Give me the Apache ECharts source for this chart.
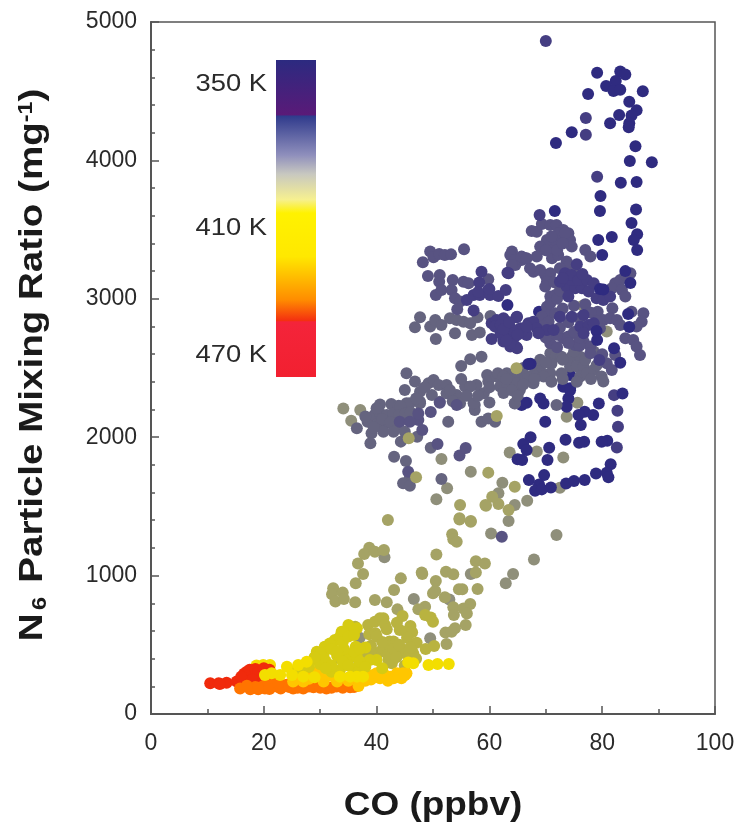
<!DOCTYPE html>
<html><head><meta charset="utf-8">
<style>html,body{margin:0;padding:0;background:#fff}#c{width:738px;height:827px}</style>
<script src="https://cdn.jsdelivr.net/npm/echarts@6/dist/echarts.min.js"></script>
</head><body><div id="c"></div>
<script>
const xTicks=[0,20,40,60,80,100];
const yTicks=[0,1000,2000,3000,4000,5000];
const barLabels=['350 K','410 K','470 K'];
const redPts=[[10.5,222],[12,222],[13.4,226],[15.2,234],[12.2,217],[17,306],[17.6,270],[18.7,306],[19.9,318],[21.1,306],[17.3,234],[19.3,270],[16.1,246],[18,290],[20,295],[16.5,290],[17.5,320],[18.5,325],[19,300],[20,330],[21,320],[18,250],[20,250],[21.5,280],[16,270]];
const paleBackPts=[[19.9,354],[21.1,354],[18.7,350]];
const orangePts=[[15.8,185],[17.6,178],[19,178],[20.2,185],[21.7,198],[23.2,198],[25.2,185],[27,185],[28.8,193],[31.1,185],[32.9,198],[35.3,193],[22.3,198],[21,215],[24,212],[20,205],[26,205],[29,205],[31,200],[34,205],[18.5,195],[22,215],[23,185],[24.5,195],[26,190],[28,198],[30,190],[32,190],[34,190],[36,195],[17,205],[19,190],[21,180],[22.5,225],[25,225]];
const amberPts=[[36.8,202],[38.2,258],[39.4,282],[41.2,294],[42.4,270],[43.6,294],[45.3,294],[44.4,258],[43,258],[40.6,258],[44.7,294],[25.2,234],[27,234],[28.8,282],[30.6,234],[32.3,270],[27.6,294],[30,330],[35,240],[33,235],[38,240],[26,260],[28,255],[30,270],[31,290],[33,250],[35,260],[37,235],[39,250],[41,275],[42,240],[44,270],[45,280],[40,295],[29,300],[33,300],[38,280],[36,290]];
const yellowPts=[[20.2,282],[21.4,294],[22.9,282],[25,282],[24.1,342],[26.1,354],[27.6,378],[37.6,270],[36.5,270],[35.3,270],[33.5,270],[49.2,354],[50.8,361],[52.8,361],[46.5,366],[45.6,373],[27,270],[29,265]];
const yellowOlivePts=[[29.4,450],[30.8,486],[28.8,390],[30.6,414],[32,510],[32.6,535],[33.8,595],[35,643],[36.5,619],[35.9,595],[32,306],[33.5,318],[34.1,462],[35.3,414],[36.5,414],[37.1,342],[33,535],[33.5,559],[31.7,510],[36.3,486],[34.2,470],[34.1,595],[36.5,330],[40,390],[38.8,390],[28,340],[30,360],[31,380],[33,420],[34,380],[36,450],[37,380],[38,340],[32,350],[35,350],[38,480],[30,440],[32,470],[34,520],[35,560],[36,570],[41,330],[37,470],[29,410],[31,330],[33,450],[26,330],[27,340]];
const oliveYellowPts=[[38.5,643],[39.7,667],[40.6,691],[41.2,691],[41.5,643],[41.8,612],[44.6,708],[43.6,660],[44.1,607],[46,636],[45.2,595],[46.3,590],[45.4,551],[47.1,515],[42.3,523],[43,523],[39,494],[38.7,576],[39.8,583],[44.1,438],[45.3,462],[46.2,462],[46.5,438],[45.6,414],[38.8,426],[40.6,450],[41.2,474],[42.4,486],[42.1,390],[42.7,366],[37.1,414],[35.9,414],[33.5,402],[36.2,631],[35.9,607],[48.6,715],[49.6,698],[50,667],[48.7,470],[50.2,491],[39,440],[42,430],[40,560],[41,520],[43,470],[44,500],[46,480],[43.5,410],[47,400],[45,350]];
const olivePts=[[42,1402],[38.7,1202],[37.8,1156],[39.7,1173],[41.3,1185],[36.7,1088],[37.6,1011],[36.3,944],[32.3,908],[32.1,865],[34,877],[32.7,812],[34.2,831],[36.2,807],[39.7,824],[41.8,807],[43.1,896],[44.3,980],[48,1023],[48.1,1011],[50.6,1153],[50.5,961],[50,872],[50.4,889],[52.3,1028],[53.6,1009],[53.4,1298],[53.6,1262],[54.2,1245],[54.8,1510],[54.7,1406],[56.7,1389],[59.3,1510],[61.6,1517],[63.4,1474],[57.6,1103],[59.2,1088],[57.6,1023],[57.9,903],[54.6,901],[55.2,901],[52.1,843],[43.7,756],[48.6,775],[47.4,756],[53.6,771],[56.6,795],[55.4,763],[56,727],[53.7,715],[55.8,643],[53.9,619],[52.2,588],[53.3,595],[52.4,506],[59.8,1744],[60.5,1570],[59.4,1505],[54.7,1414],[56.7,1395],[47,1710],[45.7,1992],[61.3,2153],[64.8,2498],[64.5,1642]];
const greyPts=[[46.6,831],[41.4,1132],[49.5,547],[37,551],[56.7,1011],[52.9,828],[60.3,1305],[63.4,1394],[71.9,1293],[67.9,1117],[64.2,1011],[62.9,944],[64.5,1510],[61.6,1595],[62.3,1671],[56.7,1751],[50.6,1551],[52.5,1631],[51.5,1843],[66.7,1541],[72.5,1635],[63.6,1890],[68.4,1897],[73.1,1854],[73.7,2148],[75.6,2249],[76.6,2951],[80.8,2763],[34.1,2208],[37.1,2197],[35.5,2119]];
const navyUnderPts=[[74.3,2450],[73.1,2365],[74.3,2353],[74,2280],[73.7,2220],[74.3,2340],[69,2280],[69.6,2244],[66.6,2249],[65.7,2232],[68.8,2907],[66,2245]];
const greySlatePts=[[36.5,2064],[38.4,2112],[39.6,2160],[40.6,2237],[42.6,2240],[43.9,2228],[45,2220],[45.9,2245],[47.7,2257],[40.6,2172],[41.8,2160],[43,2172],[40.3,2100],[41.8,2100],[43.3,2076],[39.1,2028],[38.9,1956],[41.2,2040],[45,2040],[44.3,1968],[47.2,2004],[43.1,1859],[45.2,1828],[45.9,1710],[44.7,1667],[45.9,1650],[51.5,1698],[52.7,2112],[49.6,1924],[45.3,2462],[46.8,2402],[45,2341],[49.2,2390],[50.1,2414],[51,2377],[52.4,2377],[47.7,2329],[49.8,2305],[51.2,2257],[52.4,2317],[54.2,2305],[54.8,2245],[55.7,2366],[57.7,2378],[56.6,2366],[59.6,2450],[59.8,2402],[61.3,2438],[61.5,2462],[59,2317],[57.4,2233],[61.9,2366],[63.1,2390],[64.5,2402],[65.4,2341],[64.5,2245],[45.3,2245],[47.7,2245],[44.2,2221],[61,2112],[58.6,2112],[59.8,2136],[57.4,2197],[57.2,2245],[55,2515],[56.6,2563],[58.6,2582],[47.7,2866],[46.8,2794],[49.5,2799],[50.4,2847],[51.5,2811],[53,2859],[54.2,2847],[55.4,2835],[56.6,2823],[57.9,2866],[53.9,2751],[56.9,2739],[58.3,2756],[50.5,2710],[60.2,2876],[70.8,2606],[71.7,2582],[72.8,2582],[74.6,2582],[76.1,2582],[74.3,2510],[75.5,2510],[76.7,2510],[76.1,2438],[77.3,2462],[78.5,2486],[72.8,2462],[70.8,2462],[69,2486],[67.8,2450],[69.6,2438],[66.6,2438],[64.9,2450],[63.1,2462],[62.5,2438],[64.9,2390],[67.8,2390],[71.9,2232],[64.5,2244],[79.9,2438],[80.2,2402],[66,2500],[67.5,2520],[69,2560],[71,2530],[73,2560],[75,2620],[77,2560],[78.5,2620],[70,2540],[68,2420],[71,2400],[73,2420],[75.5,2400],[78,2420],[79,2520],[53,2340],[55,2420],[56,2300],[58,2300],[60,2360],[62.5,2320],[60,2250],[53.5,2260],[48.5,2360],[47,2280],[64,2340],[66,2380],[65,2300],[63,2420],[40,2210],[41,2130],[42.5,2110],[44,2160],[45,2170],[43,2040],[46,2180],[38,2150],[39.5,2070]];
const slatePts=[[67.5,3490],[68.4,3485],[69.3,3541],[70.8,3533],[71.9,3533],[73.1,3497],[74,3473],[74.3,3425],[74.6,3377],[72.5,3401],[71.4,3401],[70.2,3425],[69,3377],[71.1,3329],[71.1,3293],[72.2,3317],[73.7,3269],[74,3232],[72.5,3220],[74.9,3196],[70.8,3184],[69.9,3172],[69,3208],[67.8,3196],[67.2,3220],[66.3,3293],[65.7,3281],[64,3341],[64.3,3293],[64.6,3244],[68.4,3305],[77,3353],[77.9,3305],[72.2,3473],[73.4,3473],[83.2,3136],[84.1,3172],[85,3184],[82.3,3112],[81.7,3076],[83.5,3064],[84.1,3016],[81.8,2931],[79.2,2907],[70.2,3124],[69.9,3088],[70.8,3016],[71.7,3028],[70.2,2943],[70.8,2967],[69.9,2883],[69.3,2871],[70.5,2835],[71.7,2895],[80.2,2847],[81.4,2859],[82.6,2847],[83.2,2811],[85.2,2907],[87.3,2895],[87,2835],[86.1,2799],[84.1,2715],[85.5,2703],[86.1,2655],[86.7,2594],[82.3,2594],[79.6,2787],[75.2,2667],[76.7,2691],[77.9,2655],[77.9,2606],[73.1,2715],[74,2727],[70.8,2679],[80.8,2534],[81.7,2486],[49.5,3341],[50.1,3300],[48.2,3264],[51.1,3324],[52.1,3317],[53.2,3321],[55.5,3358],[49.1,3165],[51.2,3172],[51.1,3124],[50.5,3028],[51.5,3064],[53.5,3136],[53.3,3064],[53.9,3004],[55.4,3124],[56.3,3112],[54.8,2980],[54.3,2924],[59.8,3141],[63.7,3317],[64.5,3280],[65.7,3305],[66.6,3293],[64,3244],[49.6,2182],[51.2,2249],[54.2,2233],[47.4,2124],[47.4,2172],[44.1,2112],[45.9,2112],[48.1,2052],[50.8,1951],[54.7,1867],[55.8,1922],[45.6,1751],[62.2,1281],[76,2660],[74,2680],[72,2650],[80,2600],[76,2720],[75,2760],[72,2740],[71,2760],[70,2720],[69.5,2800],[72.5,2790],[74,2830],[73,2930],[75,2950],[77,2960],[78,2900],[79,2840],[76,2860],[72,3000],[73,3050],[70,3350],[71,3450],[72,3350],[73,3400],[71.5,3120],[72.5,3060]];
const darkSlatePts=[[73.7,3088],[72.5,3124],[75.2,3076],[76.4,3076],[77.6,3052],[79,3004],[80.2,2992],[81.4,3016],[74.6,3136],[73.4,3184],[74.6,3172],[75.8,3136],[77.3,3136],[78.5,3112],[74,3016],[72.5,2871],[74.6,2871],[76.7,2883],[76.1,2799],[77.6,2811],[76.7,2751],[78.5,2823],[62.5,2847],[61.9,2775],[62.5,2703],[63.7,2655],[64.9,2642],[64.3,2727],[63.1,2799],[64.9,2871],[65.5,2787],[66.9,2823],[67.8,2835],[66.6,2739],[68.4,2787],[70.2,2775],[68.7,2751],[71.4,2775],[58.6,3196],[58.2,3117],[56,2992],[57.2,3028],[58.3,3028],[59.8,3064],[60.1,3028],[61.6,3020],[60.4,2823],[61.3,2847],[62.5,2859],[63.4,2811],[61.9,2787],[63.1,2751],[64.3,2715],[62.5,2691],[60.4,2710],[64.8,2650],[63.7,2678],[65.7,2763],[66.6,2799],[64.8,2866],[57.2,2915],[63.4,3184],[62.9,3063],[63.2,3188],[68.9,3605],[79.5,2557],[82.1,2304],[82.7,2191],[82.8,2076],[82.6,1926],[70,4862],[79.1,3882],[77.1,4306],[77.1,4186],[73,3150],[75.5,3250],[76.5,3180],[58,3050],[60,3070],[62,2750],[63,2700],[61,2800],[62,2810],[64,2780],[65,2740],[62.5,2780],[63.5,2830]];
const navyPts=[[79.1,4633],[83.2,4643],[84.1,4620],[82.4,4573],[80.7,4537],[82,4501],[83.2,4511],[87.2,4499],[77.5,4480],[84.8,4424],[86.1,4362],[85.2,4325],[83,4328],[81.4,4268],[84.8,4268],[84.7,4240],[74.6,4203],[71.8,4126],[85.9,4102],[84.9,3996],[88.8,3986],[83.3,3839],[86.1,3844],[79.7,3743],[79.6,3634],[86,3646],[85.2,3548],[86.2,3466],[81.7,3446],[79.3,3425],[71.6,3634],[85.6,3425],[86.2,3352],[80,3316],[84.1,3200],[85,3114],[79.6,3071],[80.2,3068],[84.6,2890],[84.8,2796],[79,2767],[79.1,2702],[82.1,2642],[83.2,2538],[67.3,2531],[63.2,2955],[83.6,2316],[80.9,1975],[79.9,1967],[76.8,1967],[75.9,1960],[73.5,1982],[79.4,2244],[76.9,2184],[75.8,2160],[78.4,2160],[76.2,2088],[69.9,2112],[67.3,1999],[66,1950],[66.6,1907],[70.6,1924],[65,1840],[65.8,1835],[70.3,1835],[69.7,1726],[67,1690],[68.8,1659],[68.1,1613],[69.3,1623],[70.9,1637],[73.6,1666],[75,1683],[76.9,1690],[78.9,1738],[81.5,1804],[80.8,1743],[81.1,1710],[66.9,2529]];
const groups=[
 ['#f5dc00',paleBackPts],['#f02a0c',redPts],['#ff7400',orangePts],['#8f8f7a',greyPts],['#2f2b80',navyUnderPts],['#65647f',greySlatePts],
 ['#585382',slatePts],['#453e82',darkSlatePts],['#2f2b80',navyPts],['#a5a365',olivePts],['#b9b340',oliveYellowPts],['#ffc600',amberPts],['#d6cb12',yellowOlivePts],['#f3de00',yellowPts]
];
const barStops=[[0,'#2c2a80'],[0.174,'#5a1a78'],[0.176,'#2f3a8c'],[0.3,'#8f8fbc'],[0.36,'#c8c8c0'],[0.44,'#f6f090'],[0.483,'#fff200'],[0.62,'#ffe800'],[0.757,'#ff8c00'],[0.822,'#f43010'],[0.826,'#f4243a'],[1,'#f22030']];
const chart=echarts.init(document.getElementById('c'));
const font='"Liberation Sans",Arial,sans-serif';
const labelStyle={fontFamily:font,fontSize:23,color:'#2a2a2a',formatter:v=>String(v)};
const lineStyle={color:'#555',width:2};
const titleFill='#1a1a1a';
chart.setOption({
 animation:false,backgroundColor:'#fff',
 grid:{left:151,top:22,width:564,height:692,show:true,borderColor:'#555',borderWidth:1.5,backgroundColor:'transparent'},
 xAxis:{type:'value',min:xTicks[0],max:xTicks[xTicks.length-1],interval:20,
  axisLine:{show:true,lineStyle},axisTick:{show:true,inside:true,length:8,lineStyle:{color:'#555',width:1.5}},
  minorTick:{show:true,splitNumber:2,length:5,lineStyle:{color:'#555',width:1.5}},
  splitLine:{show:false},axisLabel:{...labelStyle,margin:18}},
 yAxis:{type:'value',min:yTicks[0],max:yTicks[yTicks.length-1],interval:1000,
  axisLine:{show:true,lineStyle},axisTick:{show:true,inside:true,length:8,lineStyle:{color:'#555',width:1.5}},
  minorTick:{show:true,splitNumber:5,length:4,lineStyle:{color:'#555',width:1.5}},
  splitLine:{show:false},axisLabel:{...labelStyle,margin:14}},
 series:groups.map(([color,data])=>({type:'scatter',data,symbolSize:12,silent:true,itemStyle:{color,opacity:1}})),
 graphic:[
  {type:'rect',z:100,shape:{x:276,y:60,width:40,height:317},style:{fill:new echarts.graphic.LinearGradient(0,0,0,1,barStops.map(([offset,color])=>({offset,color})))}},
  ...barLabels.map((t,i)=>({type:'text',z:100,x:267,y:[84,228,355][i],scaleX:1.14,style:{text:t,align:'right',verticalAlign:'middle',font:'24px '+font,fill:'#2a2a2a'}})),
  {type:'text',z:100,x:433,y:806,scaleX:1.12,style:{text:'CO (ppbv)',align:'center',verticalAlign:'middle',font:'bold 33px '+font,fill:titleFill}},
  {type:'text',z:100,x:33,y:365,rotation:Math.PI/2,scaleX:1.168,style:{
    text:'{a|N}{s|6}{a| Particle Mixing Ratio (mg}{u|-1}{a|)}',align:'center',verticalAlign:'middle',
    rich:{a:{fontFamily:font,fontWeight:'bold',fontSize:33,fill:titleFill},
     s:{fontFamily:font,fontWeight:'bold',fontSize:20,fill:titleFill,verticalAlign:'bottom',padding:[14,3,0,3]},
     u:{fontFamily:font,fontWeight:'bold',fontSize:20,fill:titleFill,verticalAlign:'top',padding:[0,0,14,0]}}}}
 ]
});
</script></body></html>
